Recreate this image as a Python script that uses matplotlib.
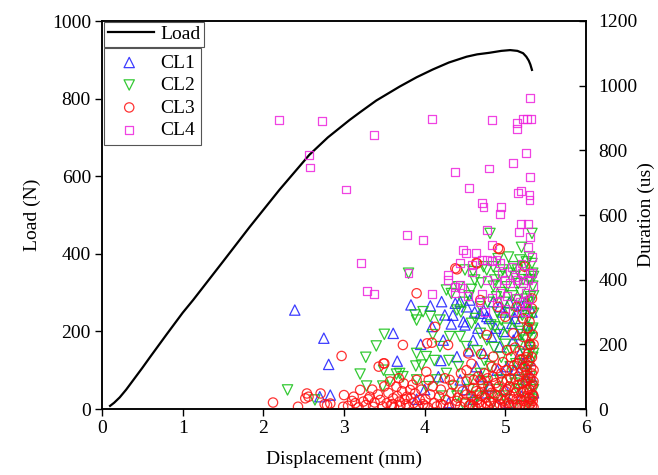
import matplotlib
matplotlib.use("Agg")
import matplotlib.pyplot as plt
import numpy as np
from matplotlib.lines import Line2D

plt.rcParams["font.family"] = ["Liberation Serif", "DejaVu Serif"]

# Load curve (left axis)
load_disp = [0.10, 0.15, 0.22, 0.30, 0.40, 0.50, 0.60, 0.80, 1.00, 1.13, 1.50,
             1.83, 2.20, 2.57, 2.80, 3.07, 3.20, 3.40, 3.69, 3.90, 4.10, 4.30,
             4.52, 4.65, 4.80, 4.95, 5.06, 5.15, 5.22, 5.26, 5.29, 5.31, 5.33]
load_n = [8, 16, 30, 50, 78, 106, 135, 192, 248, 281, 380,
          469, 565, 655, 700, 745, 765, 795, 831, 855, 875, 893,
          908, 914, 918, 923, 925, 923, 917, 908, 898, 888, 874]

# acoustic emission hits per cluster: (displacement mm, duration us)
cl1_pts = [
    (2.39, 306), (2.75, 219), (2.81, 138), (2.70, 38), (2.83, 43), (3.61, 234),
    (3.66, 148), (3.83, 322), (4.07, 319), (4.21, 332), (4.25, 291), (4.33, 263),
    (4.38, 327), (4.44, 332), (4.52, 316), (4.56, 337), (4.69, 296), (4.73, 306),
    (4.77, 286), (4.85, 332), (4.93, 316), (4.09, 255), (4.23, 213), (4.40, 162),
    (4.60, 213), (4.73, 172), (4.83, 224), (4.93, 193), (5.08, 265), (5.10, 213),
    (4.17, 100), (4.44, 90), (4.64, 131), (4.81, 69), (5.02, 131), (5.18, 172),
    (5.26, 90), (5.20, 40), (5.05, 20), (4.90, 15), (4.60, 30), (4.30, 20),
    (4.00, 60), (3.90, 30), (4.75, 50), (5.30, 250), (5.28, 200), (5.25, 330),
    (5.30, 150), (5.15, 300), (3.95, 200), (4.50, 260), (4.98, 240), (5.12, 120),
    (4.35, 290), (4.48, 270), (4.62, 300), (4.66, 250), (4.80, 280), (4.88, 250),
    (4.97, 300), (5.05, 330), (5.12, 280), (5.20, 320), (5.27, 260), (5.33, 300),
    (4.55, 180), (4.90, 120), (5.15, 230), (5.22, 140), (5.32, 100), (5.35, 50),
    (4.70, 100), (4.50, 60), (5.00, 60), (4.20, 150),
]
cl2_pts = [
    (2.30, 59), (2.64, 28), (3.20, 108), (3.27, 160), (3.40, 195), (3.50, 231),
    (3.28, 71), (3.48, 71), (3.65, 108), (3.73, 100), (3.89, 133), (3.80, 420),
    (3.88, 291), (3.90, 275), (3.98, 301), (4.07, 286), (4.27, 368), (4.33, 357),
    (4.42, 378), (4.50, 430), (4.60, 425), (4.62, 399), (4.77, 430), (4.85, 440),
    (4.87, 399), (4.97, 430), (5.10, 440), (5.18, 461), (5.26, 455), (5.33, 450),
    (5.31, 399), (5.16, 388), (4.81, 543), (5.33, 543), (3.90, 172), (3.96, 136),
    (4.02, 162), (4.19, 193), (4.31, 224), (4.44, 224), (4.52, 193), (4.58, 265),
    (4.69, 234), (4.77, 213), (4.87, 254), (4.95, 275), (5.06, 296), (5.14, 337),
    (5.22, 316), (5.31, 347), (5.35, 296), (5.33, 244), (5.26, 213), (5.35, 172),
    (5.29, 131), (5.18, 90), (5.06, 131), (4.93, 90), (4.81, 131), (4.69, 110),
    (4.56, 90), (4.42, 131), (4.27, 110), (4.15, 90), (4.02, 69), (3.90, 90),
    (3.69, 110), (3.57, 90), (3.49, 120), (4.19, 275), (4.40, 306), (4.69, 316),
    (4.89, 347), (5.02, 378), (4.60, 20), (4.80, 40), (5.00, 30), (5.20, 50),
    (5.30, 20), (5.33, 70), (5.10, 10), (4.90, 60), (4.40, 40), (5.25, 110),
    (5.32, 180), (5.34, 250), (5.30, 330), (5.34, 380), (5.34, 420), (5.00, 200),
    (5.20, 230), (4.96, 360), (5.12, 410), (4.48, 330), (4.65, 180), (5.22, 400),
    (5.28, 280), (5.35, 350), (5.25, 170), (4.72, 60), (4.30, 150), (4.10, 230),
    (4.45, 300), (4.55, 350), (4.63, 280), (4.70, 390), (4.74, 150), (4.78, 330),
    (4.82, 260), (4.86, 190), (4.90, 300), (4.92, 410), (4.95, 160), (4.99, 330),
    (5.02, 250), (5.04, 420), (5.07, 180), (5.09, 350), (5.11, 270), (5.13, 140),
    (5.15, 430), (5.17, 200), (5.19, 360), (5.21, 290), (5.23, 150), (5.24, 440),
    (5.26, 340), (5.27, 250), (5.29, 400), (5.30, 190), (5.31, 100), (5.32, 300),
    (5.33, 220), (5.34, 160), (5.35, 410), (5.35, 60), (5.33, 30), (5.28, 75),
    (5.22, 10), (5.15, 60), (5.05, 90), (4.98, 40), (4.85, 20), (4.76, 85),
    (4.66, 40), (4.55, 60), (4.48, 15), (4.36, 70), (4.22, 40), (4.12, 150),
    (4.58, 370), (4.73, 440), (4.91, 465), (5.04, 470), (5.20, 500), (5.30, 470),
    (4.85, 380), (5.08, 320), (5.18, 240), (5.27, 130), (5.12, 80), (4.93, 230),
]
cl3_pts = [
    (2.12, 20), (2.43, 7), (2.52, 33), (2.54, 48), (2.56, 38), (2.71, 48),
    (2.76, 15), (2.79, 12), (2.83, 17), (2.97, 164), (3.00, 43), (2.99, 7),
    (3.12, 38), (3.20, 59), (3.14, 18), (3.24, 23), (3.32, 38), (3.36, 7),
    (3.43, 131), (3.50, 141), (3.73, 198), (3.90, 358), (3.57, 85), (3.65, 69),
    (3.74, 79), (3.82, 59), (3.90, 90), (3.45, 28), (3.53, 18), (3.61, 33),
    (3.69, 23), (3.78, 38), (3.86, 18), (3.94, 28), (3.49, 141), (4.13, 254),
    (4.03, 203), (4.09, 205), (4.29, 198), (4.65, 450), (4.38, 435), (4.91, 497),
    (4.69, 337), (4.91, 316), (5.00, 285), (5.14, 316), (5.33, 342), (5.33, 311),
    (4.77, 229), (4.54, 172), (4.85, 162), (5.02, 182), (5.10, 234), (5.22, 223),
    (5.31, 198), (5.18, 151), (4.02, 115), (4.31, 90), (4.52, 120), (4.69, 90),
    (4.93, 494), (4.40, 432), (4.64, 452), (5.24, 440),
    (3.05, 10), (3.10, 25), (3.18, 5), (3.27, 12), (3.30, 30), (3.38, 20),
    (3.42, 45), (3.48, 8), (3.55, 50), (3.58, 12), (3.62, 5), (3.66, 40),
    (3.70, 10), (3.72, 55), (3.77, 15), (3.80, 5), (3.83, 35), (3.88, 48),
    (3.92, 8), (3.96, 60), (3.98, 15), (4.01, 30), (4.04, 5), (4.07, 45),
    (4.10, 70), (4.12, 18), (4.15, 8), (4.18, 38), (4.20, 60), (4.23, 12),
    (4.26, 28), (4.30, 5), (4.33, 50), (4.35, 75), (4.38, 15), (4.41, 35),
    (4.44, 8), (4.47, 55), (4.50, 22), (4.52, 85), (4.55, 10), (4.58, 40),
    (4.60, 65), (4.63, 5), (4.65, 28), (4.68, 50), (4.70, 12), (4.72, 80),
    (4.75, 35), (4.78, 8), (4.80, 60), (4.82, 20), (4.85, 100), (4.87, 45),
    (4.90, 10), (4.92, 70), (4.94, 30), (4.97, 5), (5.00, 55), (5.02, 90),
    (5.04, 18), (5.06, 40), (5.08, 120), (5.10, 8), (5.12, 65), (5.14, 30),
    (5.16, 100), (5.18, 12), (5.20, 50), (5.21, 80), (5.23, 25), (5.24, 130),
    (5.26, 5), (5.27, 60), (5.28, 95), (5.29, 35), (5.30, 150), (5.31, 15),
    (5.32, 70), (5.33, 110), (5.34, 45), (5.35, 5), (5.35, 85), (5.34, 25),
    (5.32, 130), (5.28, 170), (5.25, 105), (5.20, 115), (5.15, 140), (5.05, 70),
    (4.95, 110), (4.88, 80), (4.78, 95), (4.66, 100), (4.45, 110), (4.25, 95),
    (4.05, 90), (3.85, 75), (3.68, 95), (3.50, 70), (3.35, 60), (4.97, 145),
    (5.07, 160), (5.28, 250), (5.35, 200), (5.30, 270), (5.12, 190), (4.83, 130),
    (4.58, 140), (4.70, 170),
    (4.52, 45), (4.57, 15), (4.61, 90), (4.64, 55), (4.67, 20), (4.71, 40),
    (4.74, 110), (4.76, 18), (4.79, 70), (4.83, 50), (4.86, 10), (4.89, 125),
    (4.91, 40), (4.93, 15), (4.96, 85), (4.99, 25), (5.01, 120), (5.03, 60),
    (5.05, 10), (5.07, 95), (5.09, 30), (5.11, 135), (5.13, 50), (5.15, 15),
    (5.17, 75), (5.19, 30), (5.21, 155), (5.22, 55), (5.24, 10), (5.25, 85),
    (5.26, 40), (5.27, 120), (5.29, 10), (5.30, 60), (5.31, 95), (5.32, 30),
    (5.33, 160), (5.34, 75), (5.35, 40), (5.35, 120), (5.33, 10), (5.30, 200),
    (5.26, 160), (5.18, 180), (5.34, 230), (5.22, 280), (5.00, 10), (4.80, 25),
    (4.60, 10), (4.40, 25), (4.20, 15), (4.00, 10), (3.75, 30), (3.60, 15),
]
cl4_pts = [
    (2.19, 894), (2.73, 890), (3.37, 847), (2.57, 786), (2.58, 747), (3.03, 679),
    (4.09, 896), (4.83, 893), (5.14, 884), (5.14, 865), (5.31, 961), (5.22, 896),
    (5.27, 896), (5.32, 896), (5.26, 793), (5.10, 760), (4.80, 744), (4.38, 734),
    (5.31, 718), (4.55, 683), (5.16, 669), (5.19, 675), (5.30, 662), (5.30, 646),
    (4.71, 638), (4.73, 626), (4.95, 626), (4.93, 602), (4.77, 554), (5.19, 572),
    (5.28, 572), (5.17, 548), (5.31, 533), (5.28, 502), (3.78, 538), (3.98, 523),
    (4.83, 507), (3.21, 451), (3.28, 366), (3.37, 356), (4.09, 356), (3.80, 420),
    (4.47, 492), (4.51, 483), (4.64, 482), (4.71, 461), (4.77, 461), (4.83, 459),
    (4.89, 461), (4.93, 451), (4.44, 452), (4.29, 414), (4.29, 399), (4.44, 384),
    (4.46, 373), (4.59, 445), (4.59, 425), (4.77, 399), (4.89, 389), (5.00, 399),
    (5.06, 389), (5.14, 399), (5.22, 389), (5.28, 399), (5.12, 409), (5.21, 420),
    (4.38, 360), (4.54, 350), (4.71, 355), (4.83, 345), (4.93, 360), (5.02, 350),
    (5.15, 345), (4.38, 378), (5.25, 360), (5.33, 420), (5.33, 470),
    (4.90, 330), (5.00, 310), (5.10, 300), (5.18, 330), (5.24, 300), (5.30, 340),
    (5.34, 380), (4.96, 420), (5.08, 440), (5.20, 450), (5.30, 420), (4.75, 300),
    (4.68, 330), (5.27, 320),
]

cl1_d, cl1_t = np.array(cl1_pts).T
cl2_d, cl2_t = np.array(cl2_pts).T
cl3_d, cl3_t = np.array(cl3_pts).T
cl4_d, cl4_t = np.array(cl4_pts).T

fig = plt.figure(figsize=(6.58, 4.75), dpi=100)
ax = fig.add_axes([102 / 658, 66 / 475, 484 / 658, 388 / 475])
ax2 = ax.twinx()

ax.plot(load_disp, load_n, color="black", lw=1.6, label="Load")

ax2.scatter(cl1_d, cl1_t, marker="^", s=55, facecolors="none",
            edgecolors="#1a1aff", linewidths=0.9, alpha=0.85, label="CL1")
ax2.scatter(cl2_d, cl2_t, marker="v", s=55, facecolors="none",
            edgecolors="#10c010", linewidths=0.9, alpha=0.85, label="CL2")
ax2.scatter(cl3_d, cl3_t, marker="o", s=45, facecolors="none",
            edgecolors="#ff1010", linewidths=0.9, alpha=0.85, label="CL3")
ax2.scatter(cl4_d, cl4_t, marker="s", s=32, facecolors="none",
            edgecolors="#ee22dd", linewidths=0.9, alpha=0.85, label="CL4")

ax.set_xlim(0, 6)
ax.set_ylim(0, 1000)
ax2.set_ylim(0, 1200)
ax.set_xticks(range(0, 7))
ax.set_yticks(range(0, 1001, 200))
ax2.set_yticks(range(0, 1201, 200))

ax.set_xlabel("Displacement (mm)", fontsize=14, labelpad=10)
ax.set_ylabel("Load (N)", fontsize=14, labelpad=8)
ax2.set_ylabel("Duration (us)", fontsize=14, labelpad=0)

ax.tick_params(axis="both", direction="out", length=5, width=1, labelsize=14, pad=3)
ax2.tick_params(axis="y", direction="in", length=5, width=1, labelsize=14, pad=9)
for a in (ax, ax2):
    for sp in a.spines.values():
        sp.set_linewidth(1.1)

# two stacked legend boxes
leg1 = ax2.legend(handles=[Line2D([0], [0], color="black", lw=1.6)], labels=["Load"],
                  loc="upper left", bbox_to_anchor=(0.004, 0.998), borderaxespad=0,
                  fontsize=14, handlelength=2.4, handletextpad=0.3, borderpad=0.2,
                  fancybox=False, edgecolor="#555555", framealpha=1)
leg1.get_frame().set_linewidth(0.8)
ax2.add_artist(leg1)
handles, labels = ax2.get_legend_handles_labels()
leg2 = ax2.legend(handles, labels, loc="upper left", bbox_to_anchor=(0.004, 0.93),
                  borderaxespad=0, fontsize=14, handlelength=2.0, handletextpad=0.6,
                  labelspacing=0.25, borderpad=0.3, fancybox=False,
                  edgecolor="#555555", framealpha=1, scatterpoints=1)
leg2.get_frame().set_linewidth(0.8)

fig.savefig("out.png", dpi=100)
